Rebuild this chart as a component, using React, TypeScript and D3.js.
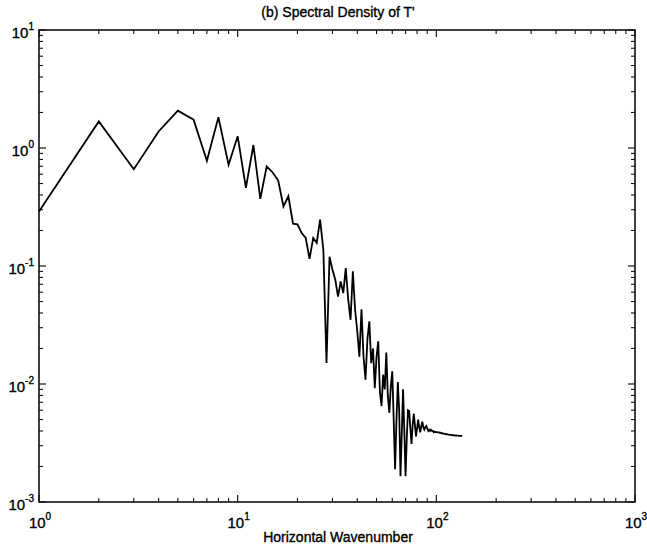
import React from 'react';
import * as d3 from 'd3';

// Spectral density of T' at horizontal wavenumbers 1..135 (index + 1)
const density: number[] = [
  0.29, 1.68, 0.66, 1.38, 2.07, 1.74, 0.78, 1.82, 0.72, 1.26,
  0.46, 1.06, 0.37, 0.70, 0.62, 0.53, 0.32, 0.39, 0.228, 0.225,
  0.19, 0.173, 0.115, 0.173, 0.157, 0.247, 0.137, 0.0151, 0.12, 0.093,
  0.0766, 0.055, 0.074, 0.059, 0.096, 0.052, 0.035, 0.09, 0.0426, 0.028,
  0.017, 0.043, 0.017, 0.0109, 0.024, 0.034, 0.015, 0.02, 0.0092, 0.017,
  0.023, 0.0085, 0.0065, 0.012, 0.009, 0.0185, 0.008, 0.0057, 0.0095, 0.0128,
  0.005, 0.0019, 0.005, 0.0104, 0.006, 0.00165, 0.0038, 0.009, 0.004, 0.00165,
  0.0035, 0.006, 0.0059, 0.0042, 0.0031, 0.0045, 0.0056, 0.0045, 0.0036, 0.0042,
  0.005, 0.0043, 0.0039, 0.0044, 0.0048, 0.0043, 0.0041, 0.0043, 0.0044, 0.0042,
  0.0040, 0.0041, 0.0040, 0.0041, 0.0040, 0.0040, 0.0039, 0.00395, 0.0039, 0.00392,
  0.0039, 0.00388, 0.0039, 0.00385, 0.00386, 0.00382, 0.00383, 0.0038, 0.0038, 0.00378,
  0.00377, 0.00376, 0.00375, 0.00374, 0.00373, 0.00372, 0.00371, 0.0037, 0.0037, 0.00369,
  0.00368, 0.00368, 0.00367, 0.00367, 0.00366, 0.00366, 0.00365, 0.00365, 0.00365, 0.00364,
  0.00364, 0.00364, 0.00364, 0.00364, 0.00365,
];

const xTickExps = [0, 1, 2, 3];
const yTickExps = [-3, -2, -1, 0, 1];
const titleText = "(b) Spectral Density of T'";
const xLabelText = 'Horizontal Wavenumber';

const W = 647;
const H = 546;
const left = 39;
const right = 635;
const top = 30;
const bottom = 502;

const FONT = '"Liberation Sans", Arial, Helvetica, sans-serif';
const textThicken = { stroke: '#000', strokeWidth: 0.35 };

export default function App() {
  const x = d3.scaleLog().domain([1, 1000]).range([left, right]);
  const y = d3.scaleLog().domain([1e-3, 10]).range([bottom, top]);

  const pts: [number, number][] = density.map((v, i) => [i + 1, v]);
  const line = d3
    .line<[number, number]>()
    .x((d) => x(d[0]))
    .y((d) => y(d[1]));

  const xMinor: number[] = [];
  xTickExps.slice(0, -1).forEach((e) => {
    for (let m = 2; m <= 9; m++) xMinor.push(m * Math.pow(10, e));
  });
  const yMinor: number[] = [];
  yTickExps.slice(0, -1).forEach((e) => {
    for (let m = 2; m <= 9; m++) yMinor.push(m * Math.pow(10, e));
  });

  const major = 7;
  const minor = 4;
  const tickStroke = '#111';

  return (
    <svg
      width={W}
      height={H}
      style={{ position: 'absolute', left: 0, top: 0, background: '#fff' }}
      fontFamily={FONT}
    >
      <rect x={0} y={0} width={W} height={H} fill="#fff" />
      <rect
        x={left}
        y={top}
        width={right - left}
        height={bottom - top}
        fill="none"
        stroke="#000"
        strokeWidth={1.5}
      />
      {xTickExps.map((e) => {
        const px = x(Math.pow(10, e));
        return (
          <g key={'xM' + e}>
            <line x1={px} x2={px} y1={bottom} y2={bottom - major} stroke={tickStroke} strokeWidth={1.2} />
            <line x1={px} x2={px} y1={top} y2={top + major} stroke={tickStroke} strokeWidth={1.2} />
          </g>
        );
      })}
      {xMinor.map((v) => {
        const px = x(v);
        return (
          <g key={'xm' + v}>
            <line x1={px} x2={px} y1={bottom} y2={bottom - minor} stroke={tickStroke} strokeWidth={1.1} />
            <line x1={px} x2={px} y1={top} y2={top + minor} stroke={tickStroke} strokeWidth={1.1} />
          </g>
        );
      })}
      {yTickExps.map((e) => {
        const py = y(Math.pow(10, e));
        return (
          <g key={'yM' + e}>
            <line x1={left} x2={left + major} y1={py} y2={py} stroke={tickStroke} strokeWidth={1.2} />
            <line x1={right} x2={right - major} y1={py} y2={py} stroke={tickStroke} strokeWidth={1.2} />
          </g>
        );
      })}
      {yMinor.map((v) => {
        const py = y(v);
        return (
          <g key={'ym' + v}>
            <line x1={left} x2={left + minor} y1={py} y2={py} stroke={tickStroke} strokeWidth={1.1} />
            <line x1={right} x2={right - minor} y1={py} y2={py} stroke={tickStroke} strokeWidth={1.1} />
          </g>
        );
      })}
      {xTickExps.map((e) => (
        <text key={'xl' + e} x={x(Math.pow(10, e)) + 1} y={528} textAnchor="middle" fontSize={15} fill="#000" {...textThicken}>
          <tspan>10</tspan>
          <tspan dy={-8} fontSize={10}>{e}</tspan>
        </text>
      ))}
      {yTickExps.map((e) => (
        <text key={'yl' + e} x={34} y={y(Math.pow(10, e)) + 8} textAnchor="end" fontSize={15} fill="#000" {...textThicken}>
          <tspan>10</tspan>
          <tspan dy={-8} fontSize={10}>{e < 0 ? '-' + Math.abs(e) : String(e)}</tspan>
        </text>
      ))}
      <text x={(left + right) / 2 + 1} y={17} textAnchor="middle" fontSize={14} fill="#000" {...textThicken}>
        {titleText}
      </text>
      <text x={(left + right) / 2 + 1} y={542} textAnchor="middle" fontSize={14} fill="#000" {...textThicken}>
        {xLabelText}
      </text>
      <path d={line(pts) || ''} fill="none" stroke="#000" strokeWidth={1.8} strokeLinejoin="miter" />
    </svg>
  );
}
